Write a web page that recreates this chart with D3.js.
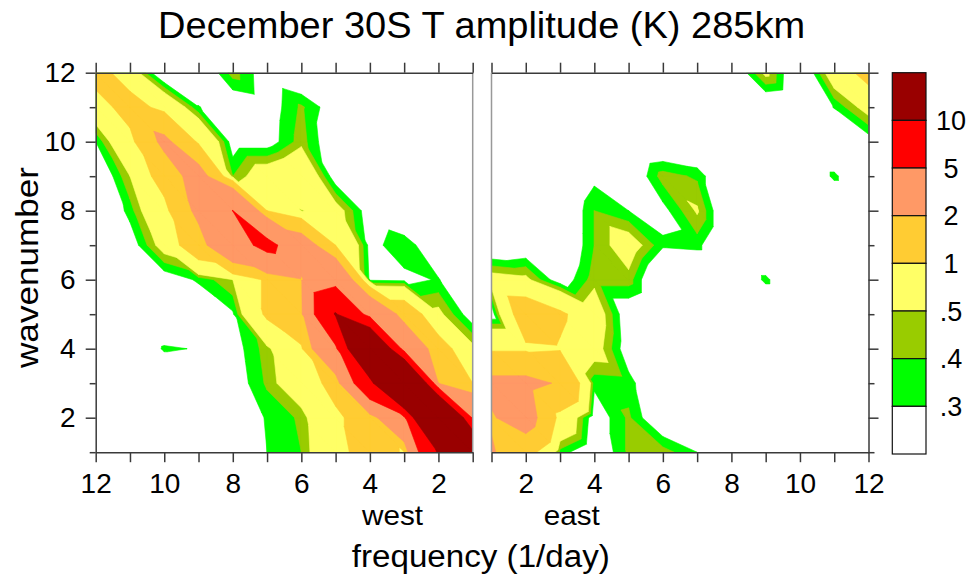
<!DOCTYPE html>
<html><head><meta charset="utf-8">
<script src="https://cdn.jsdelivr.net/npm/d3@7"></script>
<style>
body{margin:0;background:#fff}
text{font-family:"Liberation Sans",Arial,Helvetica,sans-serif;fill:#000}
</style>
</head><body>
<svg id="chart" width="972" height="582"></svg>
<script>
// ---------------- data ----------------
const titleText = "December 30S T amplitude (K) 285km";
const wavenumbers = [12, 11, 10, 9, 8, 7, 6, 5, 4, 3, 2, 1];      // rows, top to bottom
const westFreqs = [12, 11, 10, 9, 8, 7, 6, 5, 4, 3, 2, 1];        // columns, left to right
const eastFreqs = [1, 2, 3, 4, 5, 6, 7, 8, 9, 10, 11, 12];        // columns, left to right
const westTickLabels = [12, 10, 8, 6, 4, 2];
const eastTickLabels = [2, 4, 6, 8, 10, 12];
const yTickLabels = [2, 4, 6, 8, 10, 12];

// westward-propagating amplitude (K): rows = wavenumber 12..1, cols = frequency 12..1
const westAmp = [
  [1.3, 0.65, 0.1, 0.1, 0.45, 0.2, 0.1, 0.05, 0.05, 0.05, 0.05, 0.05],
  [0.7, 1.3, 0.8, 0.31, 0.15, 0.21, 0.42, 0.2, 0.05, 0.05, 0.05, 0.05],
  [0.3, 0.8, 2.3, 0.9, 0.22, 0.22, 0.45, 0.15, 0.05, 0.05, 0.05, 0.05],
  [0.1, 0.5, 1.3, 2.6, 0.4, 0.65, 0.8, 0.2, 0.05, 0.05, 0.05, 0.05],
  [0.05, 0.35, 0.8, 2.3, 5.02, 1.0, 0.49, 0.6, 0.2, 0.1, 0.05, 0.05],
  [0.1, 0.2, 0.6, 1.5, 3.5, 6.0, 2.8, 1.0, 0.25, 0.38, 0.15, 0.1],
  [0.05, 0.1, 0.2, 0.32, 0.5, 1.1, 1.9, 3.7, 0.28, 0.26, 0.31, 0.1],
  [0.05, 0.05, 0.1, 0.15, 0.28, 1.1, 1.8, 10.3, 3.8, 1.5, 0.55, 0.2],
  [0.05, 0.1, 0.32, 0.29, 0.23, 0.45, 0.9, 4.4, 20, 3.6, 1.3, 0.55],
  [0.05, 0.05, 0.1, 0.1, 0.2, 0.42, 0.7, 1.2, 8.3, 25, 2.0, 1.0],
  [0.05, 0.05, 0.05, 0.05, 0.1, 0.32, 0.42, 0.9, 1.3, 4.5, 25, 4.5],
  [0.05, 0.05, 0.05, 0.05, 0.05, 0.3, 0.4, 0.8, 1.3, 0.95, 10.5, 20]
];

// eastward-propagating amplitude (K): rows = wavenumber 12..1, cols = frequency 1..12
const eastAmp = [
  [0.05, 0.05, 0.05, 0.05, 0.05, 0.05, 0.05, 0.1, 0.55, 0.07, 0.66, 1.23],
  [0.05, 0.05, 0.05, 0.05, 0.05, 0.05, 0.05, 0.05, 0.1, 0.05, 0.31, 0.59],
  [0.05, 0.05, 0.05, 0.05, 0.05, 0.1, 0.05, 0.05, 0.05, 0.05, 0.05, 0.22],
  [0.05, 0.05, 0.05, 0.26, 0.13, 0.45, 0.38, 0.05, 0.05, 0.05, 0.335, 0.05],
  [0.05, 0.05, 0.1, 0.4, 0.3, 0.25, 0.52, 0.05, 0.05, 0.05, 0.05, 0.05],
  [0.1, 0.15, 0.1, 0.4, 0.62, 0.32, 0.34, 0.05, 0.05, 0.05, 0.05, 0.05],
  [0.6, 0.55, 0.2, 0.45, 0.45, 0.05, 0.05, 0.05, 0.335, 0.05, 0.05, 0.05],
  [0.2, 1.45, 1.1, 0.65, 0.17, 0.05, 0.05, 0.05, 0.05, 0.05, 0.05, 0.05],
  [0.9, 0.9, 0.95, 0.6, 0.2, 0.05, 0.05, 0.05, 0.05, 0.05, 0.05, 0.05],
  [2.3, 2.3, 1.9, 0.33, 0.35, 0.1, 0.05, 0.05, 0.05, 0.05, 0.05, 0.05],
  [1.9, 2.6, 0.8, 0.2, 0.42, 0.12, 0.05, 0.05, 0.05, 0.05, 0.05, 0.05],
  [2.1, 1.3, 0.36, 0.15, 0.42, 0.45, 0.3, 0.05, 0.05, 0.05, 0.05, 0.05]
];

const levels = [0.3, 0.4, 0.5, 1, 2, 5, 10];
const levelLabels = [".3", ".4", ".5", "1", "2", "5", "10"];
const fillColors = ["#ffffff", "#00ff00", "#99cc00", "#ffff66", "#ffcc33", "#ff9966", "#ff0000", "#990000"];

// ---------------- layout ----------------
const svg = d3.select("#chart");
const plotTop = 72.7, plotBottom = 452.2;
const y = d3.scaleLinear().domain([1, 12]).range([plotBottom, plotTop]);
const xWest = d3.scaleLinear().domain([12, 1]).range([95.7, 472.7]);
const xEast = d3.scaleLinear().domain([1, 12]).range([491.5, 868.5]);
const axisColor = "#3a3a3a";
const ringPath = d3.line().x(p => p.x).y(p => p.y).curve(d3.curveLinearClosed);

// region of a triangle where the linearly interpolated value >= t
function clipTriangle(tri, t) {
  const out = [];
  for (let q = 0; q < 3; q++) {
    const a = tri[q], b = tri[(q + 1) % 3];
    const ain = a.v >= t, bin = b.v >= t;
    if (ain) out.push(a);
    if (ain !== bin) {
      const s = (t - a.v) / (b.v - a.v);
      out.push({ x: a.x + s * (b.x - a.x), y: a.y + s * (b.y - a.y), v: t });
    }
  }
  return out;
}

function drawPanel(id, data, freqs, xs) {
  const n = freqs.length, m = wavenumbers.length;
  const node = (i, j) => ({ x: xs(freqs[j]), y: y(wavenumbers[i]), v: data[i][j] });
  const tris = [];
  for (let i = 0; i < m - 1; i++) {
    for (let j = 0; j < n - 1; j++) {
      const TL = node(i, j), TR = node(i, j + 1), BL = node(i + 1, j), BR = node(i + 1, j + 1);
      tris.push([TL, TR, BR], [TL, BR, BL]);
    }
  }
  const [x0, x1] = d3.extent(xs.range());
  svg.append("clipPath").attr("id", "clip-" + id)
    .append("rect").attr("x", x0).attr("y", plotTop).attr("width", x1 - x0).attr("height", plotBottom - plotTop);
  const g = svg.append("g").attr("clip-path", `url(#clip-${id})`);
  g.append("rect").attr("x", x0).attr("y", plotTop).attr("width", x1 - x0)
    .attr("height", plotBottom - plotTop).attr("fill", fillColors[0]);
  const bands = levels.map(t => tris.map(tr => clipTriangle(tr, t)).filter(p => p.length >= 3)
    .map(p => ringPath(p)).join(""));
  g.selectAll("path").data(bands).join("path")
    .attr("d", d => d || null)
    .attr("fill", (d, k) => fillColors[k + 1])
    .attr("stroke", (d, k) => fillColors[k + 1])
    .attr("stroke-width", 0.6)
    .attr("stroke-linejoin", "round");
  return [x0, x1];
}

const [wx0, wx1] = drawPanel("west", westAmp, westFreqs, xWest);
const [ex0, ex1] = drawPanel("east", eastAmp, eastFreqs, xEast);

// inner frame edges
svg.append("line").attr("x1", wx1).attr("x2", wx1).attr("y1", plotTop).attr("y2", plotBottom)
  .attr("stroke", "#999").attr("stroke-width", 1.5);
svg.append("line").attr("x1", ex0).attr("x2", ex0).attr("y1", plotTop).attr("y2", plotBottom)
  .attr("stroke", "#999").attr("stroke-width", 1.5);

function styleAxis(g) {
  g.selectAll(".domain").attr("stroke", axisColor).attr("stroke-width", 1.5);
  g.selectAll(".tick line").attr("stroke", axisColor).attr("stroke-width", 1.5);
  g.selectAll("text").attr("font-size", 28).attr("fill", "#000")
    .attr("font-family", '"Liberation Sans",Arial,Helvetica,sans-serif');
}

function xAxes(xs, freqs, labels) {
  const fmt = d => labels.includes(d) ? d : "";
  svg.append("g").attr("transform", `translate(0,${plotBottom})`)
    .call(d3.axisBottom(xs).tickValues(freqs).tickFormat(fmt).tickSize(10).tickSizeOuter(0).tickPadding(11))
    .call(styleAxis);
  svg.append("g").attr("transform", `translate(0,${plotTop})`)
    .call(d3.axisTop(xs).tickValues(freqs).tickFormat("").tickSize(10).tickSizeOuter(0))
    .call(styleAxis);
}
xAxes(xWest, westFreqs, westTickLabels);
xAxes(xEast, eastFreqs, eastTickLabels);

// y axes: left of west, right of east
const yl = svg.append("g").attr("transform", `translate(${wx0},0)`)
  .call(d3.axisLeft(y).tickValues(wavenumbers).tickFormat(d => yTickLabels.includes(d) ? d : "")
    .tickSize(10).tickSizeOuter(0).tickPadding(10))
  .call(styleAxis);
yl.selectAll(".tick").filter(d => d % 2 === 1).select("line").attr("x2", -6);

const yr = svg.append("g").attr("transform", `translate(${ex1},0)`)
  .call(d3.axisRight(y).tickValues(wavenumbers).tickFormat("").tickSize(10).tickSizeOuter(0))
  .call(styleAxis);
yr.selectAll(".tick").filter(d => d % 2 === 1).select("line").attr("x2", 6);

// titles
svg.append("text").attr("x", 481.6).attr("y", 38.3).attr("text-anchor", "middle")
  .attr("font-size", 36).attr("textLength", 647).attr("lengthAdjust", "spacingAndGlyphs").text(titleText);
svg.append("text").attr("transform", "translate(38.3,267.5) rotate(-90)").attr("text-anchor", "middle")
  .attr("font-size", 31).attr("textLength", 201).attr("lengthAdjust", "spacingAndGlyphs").text("wavenumber");
svg.append("text").attr("x", 392.5).attr("y", 525).attr("text-anchor", "middle").attr("font-size", 28)
  .attr("textLength", 61).attr("lengthAdjust", "spacingAndGlyphs").text("west");
svg.append("text").attr("x", 571.7).attr("y", 525).attr("text-anchor", "middle").attr("font-size", 28)
  .attr("textLength", 56).attr("lengthAdjust", "spacingAndGlyphs").text("east");
svg.append("text").attr("x", 480.8).attr("y", 567).attr("text-anchor", "middle")
  .attr("font-size", 31).attr("textLength", 258).attr("lengthAdjust", "spacingAndGlyphs").text("frequency (1/day)");

// colour bar
const cbX = 892.3, cbW = 33.7, cbTop = 72.7, cbBottom = 454;
const cbY = d3.scaleBand().domain(d3.range(fillColors.length)).range([cbTop, cbBottom]).padding(0);
const cb = svg.append("g");
cb.selectAll("rect").data(fillColors.slice().reverse()).join("rect")
  .attr("x", cbX).attr("y", (d, i) => cbY(i)).attr("width", cbW).attr("height", cbY.bandwidth())
  .attr("fill", d => d).attr("stroke", "#111").attr("stroke-width", 1.2);
cb.selectAll("text").data(levelLabels.slice().reverse()).join("text")
  .attr("x", 951).attr("y", (d, i) => cbY(i + 1)).attr("dy", "0.36em").attr("text-anchor", "middle")
  .attr("font-size", 27).text(d => d);
</script>
</body></html>
